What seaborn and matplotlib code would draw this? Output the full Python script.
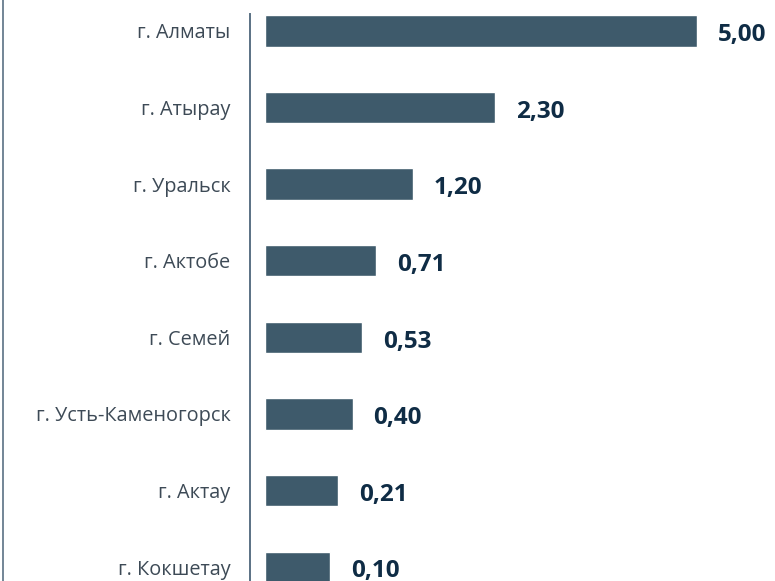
import matplotlib
matplotlib.use("Agg")
import matplotlib.pyplot as plt
import seaborn as sns
import pandas as pd
from matplotlib.lines import Line2D

# data
cities = ["г. Алматы", "г. Атырау", "г. Уральск", "г. Актобе", "г. Семей",
          "г. Усть-Каменогорск", "г. Актау", "г. Кокшетау"]
values = [5.00, 2.30, 1.20, 0.71, 0.53, 0.40, 0.21, 0.10]

# the original bars do not start at zero: every bar carries a fixed stub
BAR_STUB = 0.77
BAR_COLOR = "#3e5a6b"
LABEL_COLOR = "#0f2c45"
TICK_COLOR = "#3d4a56"

df = pd.DataFrame({"city": cities, "value": values})
df["length"] = df["value"] + BAR_STUB

sns.set_theme(style="white")
plt.rcParams["font.family"] = ["Open Sans", "DejaVu Sans"]

fig = plt.figure(figsize=(7.75, 5.81), dpi=100)
ax = fig.add_axes([250 / 775, 0, 525 / 775, 567 / 581])

sns.barplot(data=df, x="length", y="city", orient="h", color=BAR_COLOR,
            width=0.41, saturation=1, ax=ax)

ax.set_xlim(-0.2, 6.81)
ax.set_ylim(7.18, -0.22)

for i, v in enumerate(values):
    ax.annotate(f"{v:.2f}".replace(".", ","), xy=(v + BAR_STUB, i),
                xytext=(15, -3), textcoords="offset points",
                ha="left", va="center", fontsize=17.5, fontweight="bold",
                color=LABEL_COLOR, annotation_clip=False)

ax.set_xlabel("")
ax.set_ylabel("")
ax.xaxis.set_visible(False)
ax.tick_params(axis="y", length=0, pad=14, labelsize=14.3, labelcolor=TICK_COLOR)
for side in ["top", "right", "bottom"]:
    ax.spines[side].set_visible(False)
ax.spines["left"].set_color("#5a7184")
ax.spines["left"].set_linewidth(1.4)

# thin frame line at the very left edge of the picture
fig.add_artist(Line2D([2.5 / 775, 2.5 / 775], [0, 1], color="#5a7184",
                      linewidth=1.2, transform=fig.transFigure))

fig.savefig("out.png", dpi=100)
